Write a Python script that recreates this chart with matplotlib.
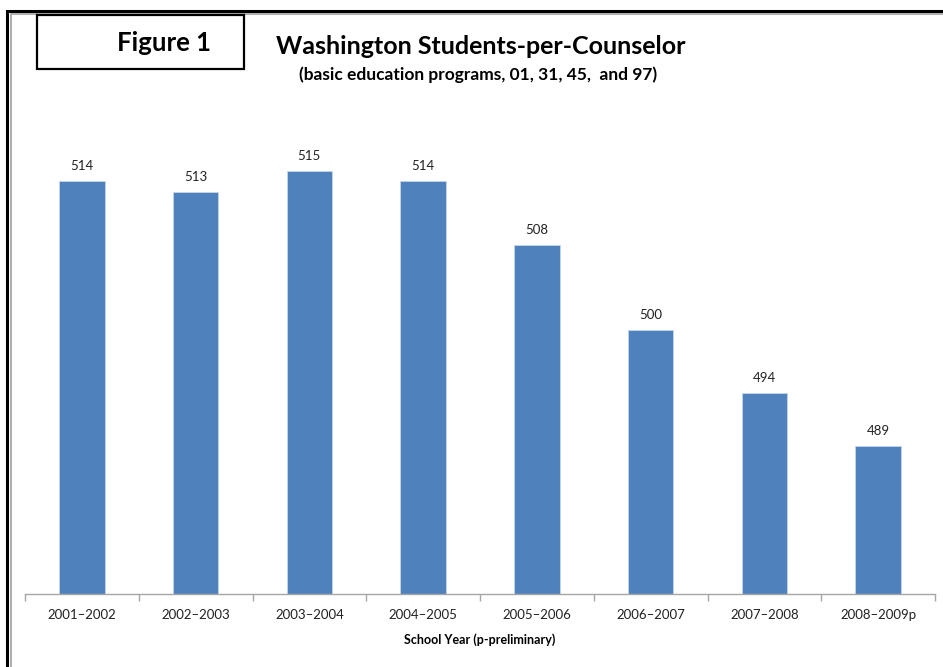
import matplotlib
matplotlib.use('Agg')
import matplotlib.pyplot as plt
from matplotlib.patches import Rectangle

plt.rcParams['font.family'] = ['Lato', 'DejaVu Sans']

years = ['2001\u20132002', '2002\u20132003', '2003\u20132004', '2004\u20132005',
         '2005\u20132006', '2006\u20132007', '2007\u20132008', '2008\u20132009p']
students_per_counselor = [514, 513, 515, 514, 508, 500, 494, 489]

W, H = 943, 667
fig = plt.figure(figsize=(W / 100, H / 100), dpi=100)

def px(x, y):
    # pixel position (from top-left) to figure fraction
    return x / W, 1 - y / H

# double page frame: heavy black outside, thin grey inside
fig.patches.append(Rectangle(px(7.5, 700), (W + 50) / W, (700 - 11.5) / H,
                             transform=fig.transFigure, fill=False,
                             edgecolor='black', linewidth=2.2))
fig.patches.append(Rectangle(px(10.5, 700), (W + 50) / W, (700 - 14.5) / H,
                             transform=fig.transFigure, fill=False,
                             edgecolor='#a0a0a0', linewidth=1.2))

# "Figure 1" box
fig.patches.append(Rectangle(px(37, 69), 207 / W, 54 / H,
                             transform=fig.transFigure, fill=False,
                             edgecolor='black', linewidth=1.6))
fig.text(*px(164, 43), 'Figure 1', ha='center', va='center',
         fontsize=18.5, fontweight='bold')

fig.text(*px(481, 46), 'Washington Students-per-Counselor', ha='center',
         va='center', fontsize=18, fontweight='bold')
fig.text(*px(478, 75), '(basic education programs, 01, 31, 45,  and 97)',
         ha='center', va='center', fontsize=12.5, fontweight='bold')

left, bottom = px(25, 594)
ax = fig.add_axes([left, bottom, 910 / W, 476 / H])

x = range(len(years))
bars = ax.bar(x, students_per_counselor, width=0.4, bottom=0,
              color='#4f81bd', edgecolor='#c6d6ea', linewidth=0.6)
ax.set_ylim(475, 520)
ax.set_xlim(-0.5, len(years) - 0.5)

for b, v in zip(bars, students_per_counselor):
    ax.annotate(str(v), (b.get_x() + b.get_width() / 2, v), xytext=(0, 6.5),
                textcoords='offset points', ha='center', va='bottom',
                fontsize=9.5, color='#222222')

for s in ['top', 'right', 'left']:
    ax.spines[s].set_visible(False)
ax.spines['bottom'].set_color('#a6a6a6')
ax.spines['bottom'].set_linewidth(1.0)
ax.set_yticks([])

# category labels centred under bars, tick marks on boundaries
ax.set_xticks([i - 0.5 for i in range(len(years) + 1)])
ax.set_xticklabels([])
ax.set_xticks(list(x), minor=True)
ax.set_xticklabels(years, minor=True, fontsize=9.5, color='#222222')
ax.tick_params(axis='x', which='major', length=5, color='#a6a6a6', width=1.0)
ax.tick_params(axis='x', which='minor', length=0, pad=11)
ax.set_xlabel('School Year (p-preliminary)', fontsize=9, fontweight='bold',
              labelpad=9)

fig.savefig('out.png', dpi=100)
